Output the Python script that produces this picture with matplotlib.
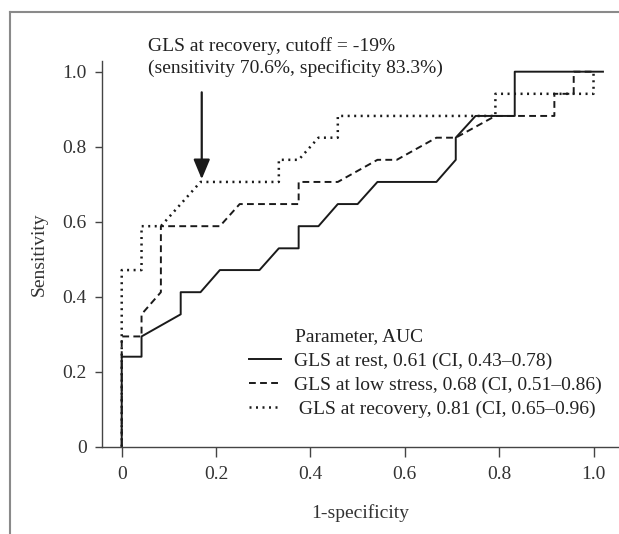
import matplotlib
matplotlib.use('Agg')
import matplotlib.pyplot as plt
from matplotlib.lines import Line2D

plt.rcParams['font.family'] = ['Liberation Serif', 'DejaVu Serif']

# ROC curves (1-specificity, sensitivity)
REST_X = [0, 0, 0.042, 0.042, 0.125, 0.125, 0.167, 0.208, 0.292, 0.333, 0.375, 0.375,
          0.417, 0.458, 0.5, 0.542, 0.667, 0.708, 0.708, 0.75, 0.833, 0.833, 1.02]
REST_Y = [0, 0.24, 0.24, 0.294, 0.353, 0.412, 0.412, 0.471, 0.471, 0.529, 0.529, 0.588,
          0.588, 0.647, 0.647, 0.706, 0.706, 0.765, 0.824, 0.882, 0.882, 1.0, 1.0]
LOW_X = [0, 0, 0.042, 0.042, 0.083, 0.083, 0.208, 0.25, 0.375, 0.375, 0.458, 0.542,
         0.583, 0.667, 0.708, 0.792, 0.917, 0.917, 0.958, 0.958, 1.0]
LOW_Y = [0, 0.294, 0.294, 0.353, 0.412, 0.588, 0.588, 0.647, 0.647, 0.706, 0.706, 0.765,
         0.765, 0.824, 0.824, 0.882, 0.882, 0.941, 0.941, 1.0, 1.0]
REC_X = [0, 0, 0.042, 0.042, 0.083, 0.167, 0.333, 0.333, 0.375, 0.417, 0.458, 0.458,
         0.792, 0.792, 1.0, 1.0]
REC_Y = [0, 0.471, 0.471, 0.588, 0.588, 0.706, 0.706, 0.765, 0.765, 0.824, 0.824, 0.882,
         0.882, 0.941, 0.941, 1.0]

LABELS = ["GLS at rest, 0.61 (CI, 0.43\u20130.78)",
          "GLS at low stress, 0.68 (CI, 0.51\u20130.86)",
          " GLS at recovery, 0.81 (CI, 0.65\u20130.96)"]
LEGEND_TITLE = 'Parameter, AUC'
TICKS = [0, 0.2, 0.4, 0.6, 0.8, 1.0]
TICK_LABELS = ['0', '0.2', '0.4', '0.6', '0.8', '1.0']
CUTOFF = (0.1696, 0.706)
NOTE = 'GLS at recovery, cutoff = -19%\n(sensitivity 70.6%, specificity 83.3%)'

FS = 14
fig = plt.figure(figsize=(6.19, 5.34), dpi=100)
ax = fig.add_axes([102/619, 87.3/534, 517/619, 385.7/534])

ink = '#1a1a1a'
ax.plot(REST_X, REST_Y, color=ink, lw=1.4, ls='-', label=LABELS[0])
ax.plot(LOW_X, LOW_Y, color=ink, lw=1.4, ls=(0, (3.5, 2.2)), label=LABELS[1])
ax.plot(REC_X, REC_Y, color=ink, lw=1.8, ls=(0, (0.8, 1.8)), label=LABELS[2])

ax.set_xlim(-0.0418, 1.054)
ax.set_ylim(0, 1.0285)
ax.set_xticks(TICKS)
ax.set_xticklabels(TICK_LABELS)
ax.set_yticks(TICKS)
ax.set_yticklabels(TICK_LABELS)
for s in ['top', 'right']:
    ax.spines[s].set_visible(False)
for s in ['left', 'bottom']:
    ax.spines[s].set_color('#444444')
    ax.spines[s].set_linewidth(1.0)
ax.tick_params(axis='x', length=7, width=1, color='#444444', labelsize=FS, pad=7, labelcolor='#333333')
ax.tick_params(axis='y', length=5, width=1, color='#444444', labelsize=FS, pad=6, labelcolor='#333333')

ax.set_xlabel('1-specificity', fontsize=FS, color='#333333')
ax.set_ylabel('Sensitivity', fontsize=FS, color='#333333')
ax.xaxis.set_label_coords(0.5, -0.15)
ax.yaxis.set_label_coords(-0.104, 0.5)

# annotation
ax.text(0.056, 1.04, NOTE, fontsize=FS, color='#222222', va='center', ha='left',
        linespacing=1.3, clip_on=False)
ax.annotate('', xy=CUTOFF, xytext=(CUTOFF[0], 0.945),
            arrowprops=dict(arrowstyle='-|>,head_length=1.2,head_width=0.5', color=ink, lw=1.6,
                            shrinkA=0, shrinkB=2))

leg = ax.legend(loc='upper left', bbox_to_anchor=(0.284, 0.245), frameon=False, fontsize=FS,
                handlelength=1.65, handletextpad=0.65, labelspacing=0.32, borderaxespad=0,
                borderpad=0)
for t in leg.get_texts():
    t.set_color('#222222')
ax.text(0.367, 0.2925, LEGEND_TITLE, fontsize=FS, color='#222222', va='center', ha='left')

# outer frame
fig.add_artist(Line2D([10/619, 10/619], [0, 1 - 12/534], transform=fig.transFigure, color='#8a8a8a', lw=1.5))
fig.add_artist(Line2D([10/619, 1], [1 - 12/534, 1 - 12/534], transform=fig.transFigure, color='#8a8a8a', lw=1.5))

fig.savefig('out.png', dpi=100)
